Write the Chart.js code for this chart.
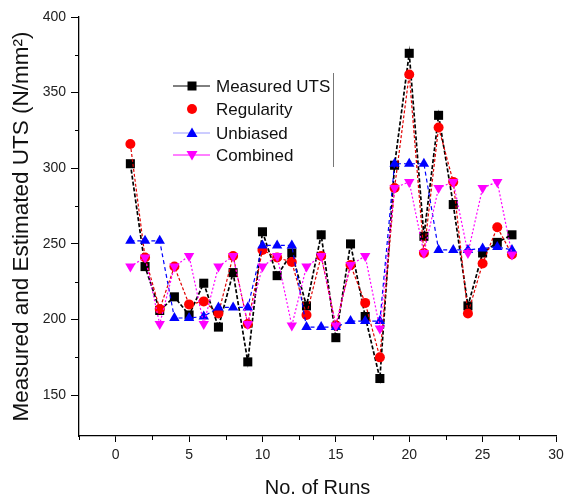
<!DOCTYPE html>
<html>
<head>
<meta charset="utf-8">
<script src="https://cdn.jsdelivr.net/npm/chart.js@4.4.0/dist/chart.umd.min.js"></script>
<style>
  html, body { margin: 0; padding: 0; background: #fff; }
  #wrap { width: 579px; height: 503px; position: relative; }
</style>
</head>
<body>
<div id="wrap"><canvas id="utsChart"></canvas></div>
<script>
// Dados
const runs = [1, 2, 3, 4, 5, 6, 7, 8, 9, 10, 11, 12, 13, 14, 15, 16, 17, 18, 19, 20, 21, 22, 23, 24, 25, 26, 27];
const measured   = [303, 235, 206, 215, 203, 224, 195, 231, 172, 258, 229, 244, 209, 256, 188, 250, 202, 161, 302, 376, 255, 335, 276, 209, 244, 251, 256];
const regularity = [316, 241, 207, 235, 210, 212, 204, 242, 197, 246, 241, 238, 203, 242, 196, 236, 211, 175, 287, 362, 244, 327, 291, 204, 237, 261, 243];
const unbiased   = [252, 252, 252, 201, 201, 202, 208, 208, 208, 249, 249, 249, 195, 195, 195, 199, 199, 199, 303, 303, 303, 246, 246, 246, 247, 248, 246];
const combined   = [235, 241, 197, 235, 242, 197, 235, 242, 197, 235, 242, 196, 235, 242, 196, 236, 242, 194, 287, 291, 244, 287, 291, 244, 287, 291, 243];

const seriesNames = ['Measured UTS', 'Regularity', 'Unbiased', 'Combined'];

// Ticks
const xMajor = [0, 5, 10, 15, 20, 25, 30];
const xMinor = [-2.5, 2.5, 7.5, 12.5, 17.5, 22.5, 27.5];
const yMajor = [150, 200, 250, 300, 350, 400];
const yMinor = [175, 225, 275, 325, 375];

const toPoints = vals => vals.map((v, i) => ({ x: runs[i], y: v }));

// Legenda desenhada dentro da área do gráfico (como no original)
const legendMarks = [
    { style: 'rect',   color: '#000000', line: '#000000' },
    { style: 'circle', color: '#ff0000', line: null },
    { style: 'up',     color: '#0000ff', line: '#9a9aff' },
    { style: 'down',   color: '#ff00ff', line: '#ff00ff' }
];

function drawMarker(ctx, style, x, y, color) {
    ctx.fillStyle = color;
    ctx.beginPath();
    if (style === 'rect') {
        ctx.rect(x - 4.5, y - 4.5, 9, 9);
    } else if (style === 'circle') {
        ctx.arc(x, y, 5, 0, Math.PI * 2);
    } else if (style === 'up') {
        ctx.moveTo(x, y - 5.5);
        ctx.lineTo(x + 5.5, y + 4);
        ctx.lineTo(x - 5.5, y + 4);
    } else {
        ctx.moveTo(x, y + 5.5);
        ctx.lineTo(x + 5.5, y - 4);
        ctx.lineTo(x - 5.5, y - 4);
    }
    ctx.closePath();
    ctx.fill();
}

const insideLegend = {
    id: 'insideLegend',
    afterDraw(chart) {
        const ctx = chart.ctx;
        const rows = [86, 109, 133, 155];
        ctx.save();
        ctx.font = '17px "Liberation Sans", Arial, sans-serif';
        ctx.textBaseline = 'middle';
        seriesNames.forEach((name, i) => {
            const m = legendMarks[i];
            const y = rows[i];
            if (m.line) {
                ctx.strokeStyle = m.line;
                ctx.lineWidth = 1;
                ctx.beginPath();
                ctx.moveTo(173, y);
                ctx.lineTo(210, y);
                ctx.stroke();
            }
            drawMarker(ctx, m.style, 192, y, m.color);
            ctx.fillStyle = '#111';
            ctx.fillText(name, 216, y + 1);
        });
        // traço vertical à direita da legenda
        ctx.strokeStyle = '#777';
        ctx.lineWidth = 1;
        ctx.beginPath();
        ctx.moveTo(333.5, 73);
        ctx.lineTo(333.5, 167);
        ctx.stroke();
        ctx.restore();
    }
};

// Ticks menores (mais curtos que os principais)
const minorTicks = {
    id: 'minorTicks',
    afterDraw(chart) {
        const { ctx, scales: { x, y } } = chart;
        ctx.save();
        ctx.strokeStyle = '#000';
        ctx.lineWidth = 1;
        ctx.beginPath();
        xMinor.forEach(v => {
            const px = Math.round(x.getPixelForValue(v)) + 0.5;
            ctx.moveTo(px, x.top);
            ctx.lineTo(px, x.top + 4);
        });
        yMinor.forEach(v => {
            const py = Math.round(y.getPixelForValue(v)) + 0.5;
            ctx.moveTo(y.right, py);
            ctx.lineTo(y.right - 4, py);
        });
        ctx.stroke();
        ctx.restore();
    }
};

const ctx = document.getElementById('utsChart').getContext('2d');

new Chart(ctx, {
    type: 'line',
    data: {
        datasets: [
            {
                label: seriesNames[0],
                data: toPoints(measured),
                borderColor: '#000000',
                backgroundColor: '#000000',
                borderWidth: 1.7,
                borderDash: [4, 2],
                pointStyle: 'rect',
                pointRadius: 6.4,
                pointBorderWidth: 0,
                order: 4
            },
            {
                label: seriesNames[1],
                data: toPoints(regularity),
                borderColor: '#e00000',
                backgroundColor: '#ff0000',
                borderWidth: 1.2,
                borderDash: [3, 2],
                pointStyle: 'circle',
                pointRadius: 5,
                pointBorderWidth: 0,
                order: 3
            },
            {
                label: seriesNames[2],
                data: toPoints(unbiased),
                borderColor: '#0000ff',
                backgroundColor: '#0000ff',
                borderWidth: 1.2,
                borderDash: [4, 3],
                pointStyle: 'triangle',
                pointRadius: 6,
                pointBorderWidth: 0,
                order: 2
            },
            {
                label: seriesNames[3],
                data: toPoints(combined),
                borderColor: '#ff00ff',
                backgroundColor: '#ff00ff',
                borderWidth: 1.2,
                borderDash: [2, 2],
                pointStyle: 'triangle',
                pointRotation: 180,
                pointRadius: 6,
                pointBorderWidth: 0,
                order: 1
            }
        ]
    },
    options: {
        responsive: true,
        maintainAspectRatio: false,
        animation: false,
        layout: { padding: { top: 17, right: 23, left: 0, bottom: 0 } },
        scales: {
            x: {
                type: 'linear',
                min: -2.5,
                max: 30,
                afterBuildTicks: scale => { scale.ticks = xMajor.map(v => ({ value: v })); },
                afterFit: scale => { scale.height = 67; },
                grid: { drawOnChartArea: false, drawTicks: true, tickLength: 6, color: '#000' },
                border: { display: true, color: '#000', width: 1.3 },
                ticks: {
                    padding: 5,
                    color: '#222',
                    font: { family: '"Liberation Sans", Arial, sans-serif', size: 14 },
                    maxRotation: 0
                },
                title: {
                    display: true,
                    text: 'No. of Runs',
                    color: '#111',
                    font: { family: '"Liberation Sans", Arial, sans-serif', size: 20 },
                    padding: { top: 0, bottom: 3 }
                }
            },
            y: {
                type: 'linear',
                min: 123,
                max: 400,
                afterBuildTicks: scale => { scale.ticks = yMajor.map(v => ({ value: v })); },
                afterFit: scale => { scale.width = 79; },
                grid: { drawOnChartArea: false, drawTicks: true, tickLength: 8, color: '#000' },
                border: { display: true, color: '#000', width: 1.3 },
                ticks: {
                    padding: 5,
                    color: '#222',
                    font: { family: '"Liberation Sans", Arial, sans-serif', size: 14 }
                },
                title: {
                    display: true,
                    text: 'Measured and Estimated UTS (N/mm²)',
                    color: '#111',
                    font: { family: '"Liberation Sans", Arial, sans-serif', size: 22.5 },
                    padding: { top: 8, bottom: 0 }
                }
            }
        },
        plugins: {
            legend: { display: false },
            tooltip: { enabled: false }
        }
    },
    plugins: [minorTicks, insideLegend]
});
</script>
</body>
</html>
